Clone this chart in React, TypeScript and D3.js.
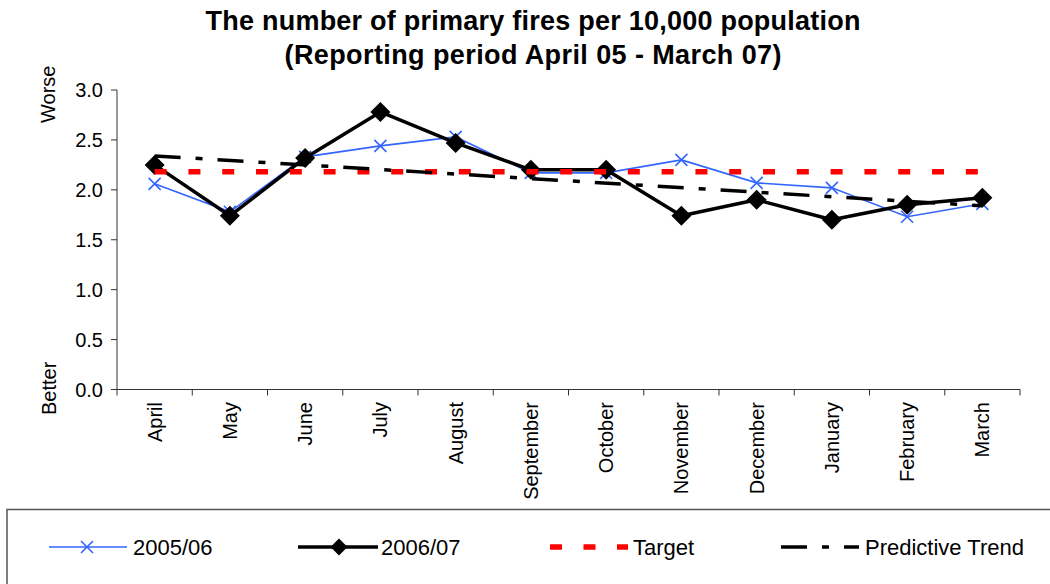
import React from "react";
import * as d3 from "d3";

const months = ["April", "May", "June", "July", "August", "September", "October", "November", "December", "January", "February", "March"];
const series0506 = [2.06, 1.78, 2.33, 2.44, 2.53, 2.17, 2.17, 2.30, 2.07, 2.02, 1.73, 1.86];
const series0607 = [2.25, 1.74, 2.32, 2.78, 2.47, 2.20, 2.20, 1.74, 1.90, 1.70, 1.85, 1.92];
const targetValues = [2.18, 2.18, 2.18, 2.18, 2.18, 2.18, 2.18, 2.18, 2.18, 2.18, 2.18, 2.18];
const trendMonths = ["April", "March"];
const trendValues = [2.34, 1.84];
const yTicks = [0, 0.5, 1.0, 1.5, 2.0, 2.5, 3.0];
const titleLines = ["The number of primary fires per 10,000 population", "(Reporting period April 05 - March 07)"];
const legendLabels = ["2005/06", "2006/07", "Target", "Predictive Trend"];

const FONT = "'Liberation Sans', Arial, sans-serif";
const BLUE = "#3366FF";

export default function App() {
  const W = 1050, H = 584;
  const left = 117, right = 1020, top = 90, bottom = 389.5;
  const x = d3.scaleBand<string>().domain(months).range([left, right]).padding(0);
  const cx = (m: string) => (x(m) as number) + x.bandwidth() / 2;
  const y = d3.scaleLinear().domain([0, 3]).range([bottom, top]);

  const line = d3.line<[string, number]>().x((d) => cx(d[0])).y((d) => y(d[1]));
  const p0506 = line(months.map((m, i) => [m, series0506[i]]));
  const p0607 = line(months.map((m, i) => [m, series0607[i]]));
  const pTarget = line(months.map((m, i) => [m, targetValues[i]]));
  const pTrend = line(trendMonths.map((m, i) => [m, trendValues[i]]));

  const diamond = (px: number, py: number, r: number) => `M${px},${py - r}L${px + r},${py}L${px},${py + r}L${px - r},${py}Z`;
  const cross = (px: number, py: number, r: number) => `M${px - r},${py - r}L${px + r},${py + r}M${px - r},${py + r}L${px + r},${py - r}`;

  const ly = 547;
  return (
    <svg width={W} height={H} style={{ position: "absolute", left: 0, top: 0, background: "#fff" }} fontFamily={FONT}>
      <rect x={0} y={0} width={W} height={H} fill="#fff" />
      {/* Title */}
      <text x={533} y={30} textAnchor="middle" fontWeight="bold" fontSize={27} textLength={655} lengthAdjust="spacing">{titleLines[0]}</text>
      <text x={533} y={64} textAnchor="middle" fontWeight="bold" fontSize={27} textLength={497} lengthAdjust="spacing">{titleLines[1]}</text>

      {/* side labels */}
      <text transform={`translate(55,123) rotate(-90)`} fontSize={20} textAnchor="start">Worse</text>
      <text transform={`translate(56,415) rotate(-90)`} fontSize={20} textAnchor="start">Better</text>

      {/* y axis */}
      <line x1={left} x2={left} y1={top} y2={bottom} stroke="#333" strokeWidth={1} />
      {yTicks.map((t) => (
        <g key={t}>
          <line x1={left - 6} x2={left} y1={y(t)} y2={y(t)} stroke="#333" strokeWidth={1} />
          <text x={103} y={y(t)} dy="0.35em" textAnchor="end" fontSize={20}>{t.toFixed(1)}</text>
        </g>
      ))}
      {/* x axis */}
      <line x1={left} x2={right} y1={bottom} y2={bottom} stroke="#333" strokeWidth={1} />
      {months.map((m) => (
        <line key={"t" + m} x1={x(m) as number} x2={x(m) as number} y1={bottom} y2={bottom + 6} stroke="#333" strokeWidth={1} />
      ))}
      <line x1={right} x2={right} y1={bottom} y2={bottom + 6} stroke="#333" strokeWidth={1} />
      {months.map((m) => (
        <text key={"l" + m} transform={`translate(${cx(m)},402) rotate(-90)`} dy="0.35em" textAnchor="end" fontSize={20}>{m}</text>
      ))}

      {/* 2005/06 */}
      <path d={p0506 || ""} fill="none" stroke={BLUE} strokeWidth={1.6} />
      {months.map((m, i) => (
        <path key={"x" + m} d={cross(cx(m), y(series0506[i]), 6)} stroke={BLUE} strokeWidth={1.6} fill="none" />
      ))}
      {/* 2006/07 */}
      <path d={p0607 || ""} fill="none" stroke="#000" strokeWidth={3.5} strokeLinejoin="round" />
      {months.map((m, i) => (
        <path key={"d" + m} d={diamond(cx(m), y(series0607[i]), 10)} fill="#000" />
      ))}
      {/* Target */}
      <path d={pTarget || ""} fill="none" stroke="#FF0000" strokeWidth={5.5} strokeDasharray="12,21.8" />
      {/* Trend */}
      <path d={pTrend || ""} fill="none" stroke="#000" strokeWidth={3.5} strokeDasharray="26,15,7,15" />

      {/* Legend */}
      <rect x={7} y={509.5} width={1060} height={100} fill="none" stroke="#555" strokeWidth={1.5} />
      <line x1={49} x2={127} y1={ly} y2={ly} stroke={BLUE} strokeWidth={1.6} />
      <path d={cross(87, ly, 6)} stroke={BLUE} strokeWidth={1.6} fill="none" />
      <text x={133} y={ly} dy="0.36em" fontSize={22}>{legendLabels[0]}</text>

      <line x1={298} x2={378} y1={ly} y2={ly} stroke="#000" strokeWidth={3.5} />
      <path d={diamond(339, ly, 8.5)} fill="#000" />
      <text x={381} y={ly} dy="0.36em" fontSize={22}>{legendLabels[1]}</text>

      <line x1={550} x2={628} y1={ly} y2={ly} stroke="#FF0000" strokeWidth={5.5} strokeDasharray="12,21.5" />
      <text x={633} y={ly} dy="0.36em" fontSize={22}>{legendLabels[2]}</text>

      <line x1={781} x2={859} y1={ly} y2={ly} stroke="#000" strokeWidth={3.5} strokeDasharray="26,15,7,15" />
      <text x={865} y={ly} dy="0.36em" fontSize={22}>{legendLabels[3]}</text>
    </svg>
  );
}
